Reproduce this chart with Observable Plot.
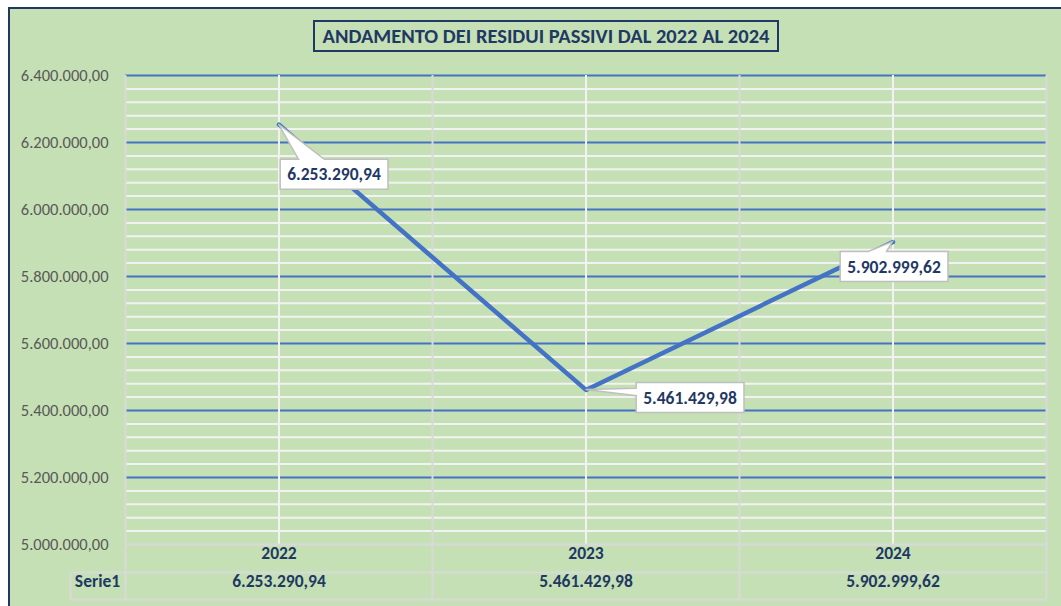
<!DOCTYPE html>
<html>
<head>
<meta charset="utf-8">
<script src="https://cdn.jsdelivr.net/npm/d3@7"></script>
<script src="https://cdn.jsdelivr.net/npm/@observablehq/plot@0.6"></script>
<style>
  html, body { margin: 0; padding: 0; background: #ffffff; overflow: hidden; }
  #wrap { position: relative; width: 1061px; height: 606px; overflow: hidden; }
  #area { position: absolute; left: 8px; top: 7px; width: 1100px; height: 700px;
          background: #C5E0B4; border-top: 2px solid #1F3864; border-left: 2px solid #1F3864; }
  #title { position: absolute; left: 313px; top: 20px; width: 466px; height: 32px; box-sizing: border-box;
           border: 2px solid #1F3864; color: #1F3864; font: bold 20.5px Carlito, Lato, sans-serif;
           display: flex; align-items: center; justify-content: center; white-space: nowrap; }
  #chart { position: absolute; left: 0; top: 0; }
</style>
</head>
<body>
<div id="wrap">
  <div id="area"></div>
  <div id="chart"></div>
  <div id="title"></div>
</div>
<script>
// ---- data ----
const title = "ANDAMENTO DEI RESIDUI PASSIVI DAL 2022 AL 2024";
const seriesName = "Serie1";
const years = [2022, 2023, 2024];
const values = [6253290.94, 5461429.98, 5902999.62];
const yTicks = [5000000, 5200000, 5400000, 5600000, 5800000, 6000000, 6200000, 6400000];
const minorStep = 40000;

// ---- layout of callouts (pixel offsets, pointer side, pointer base fractions) ----
const calloutLayout = [
  {dx: 55, dy: 50, side: "top", b0: 0.17, b1: 0.41},
  {dx: 104, dy: 8, side: "left", b0: 0.19, b1: 0.44},
  {dx: 1, dy: 25, side: "top", b0: 0.26, b1: 0.43}
];

document.getElementById("title").textContent = title;

const fmt = d3.formatLocale({decimal: ",", thousands: ".", grouping: [3], currency: ["", " €"]}).format(",.2f");
const data = years.map((year, i) => ({year, value: values[i]}));
const bounds = [years[0] - 0.5, ...years.map(y => y + 0.5)];
const yMin = d3.min(yTicks), yMax = d3.max(yTicks);
const majors = yTicks.filter(v => v > yMin);
const minors = d3.range(yMin + minorStep, yMax, minorStep).filter(v => !yTicks.some(t => Math.abs(t - v) < 1));

const navy = "#1F3864";
const fontFamily = "Carlito, Lato, sans-serif";
const tableFont = 17.5;

const plot = Plot.plot({
  width: 1061,
  height: 606,
  marginLeft: 125,
  marginRight: 15,
  marginTop: 75,
  marginBottom: 62,
  style: {background: "transparent", fontFamily, fontSize: "16.5px", color: "#595959", overflow: "visible"},
  x: {domain: [bounds[0], bounds[bounds.length - 1]], axis: null},
  y: {domain: [yMin, yMax], ticks: yTicks, tickFormat: fmt, tickSize: 0, tickPadding: 17, label: null},
  marks: [
    Plot.ruleY(minors, {stroke: "#F2F2F2", strokeWidth: 2}),
    Plot.ruleY(majors, {stroke: "#4472C4", strokeWidth: 2}),
    Plot.ruleX(years, {stroke: "#F2F2F2", strokeWidth: 2}),
    Plot.ruleX(bounds, {stroke: "#D9D9D9", strokeWidth: 2, insetBottom: -55}),
    Plot.ruleY([yMin], {stroke: "#D9D9D9", strokeWidth: 2}),
    Plot.ruleY([yMin], {stroke: "#D9D9D9", strokeWidth: 2, dy: 28, insetLeft: -55}),
    Plot.ruleY([yMin], {stroke: "#D9D9D9", strokeWidth: 2, dy: 55, insetLeft: -55}),
    Plot.ruleX([bounds[0]], {stroke: "#D9D9D9", strokeWidth: 2, dx: -55, insetTop: 497, insetBottom: -55}),
    Plot.line(data, {x: "year", y: "value", stroke: "#4472C4", strokeWidth: 4.5, strokeLinecap: "round", strokeLinejoin: "round"}),
    Plot.text(data, {x: "year", frameAnchor: "bottom", dy: 14, text: d => String(d.year), fill: navy, fontWeight: "bold", fontSize: tableFont}),
    Plot.text(data, {x: "year", frameAnchor: "bottom", dy: 42, text: d => fmt(d.value), fill: navy, fontWeight: "bold", fontSize: tableFont}),
    Plot.text([seriesName], {frameAnchor: "bottom-left", dx: -28, dy: 42, textAnchor: "middle", text: d => d, fill: navy, fontWeight: "bold", fontSize: tableFont}),
    ...data.map((d, i) => Plot.text([d], {
      x: "year", y: "value", text: e => fmt(e.value),
      dx: calloutLayout[i].dx, dy: calloutLayout[i].dy,
      fill: navy, fontWeight: "bold", fontSize: 17.5, ariaDescription: "callout"
    }))
  ]
});

document.getElementById("chart").appendChild(plot);

// ---- draw callout boxes with pointers behind the callout texts ----
const xs = plot.scale("x"), ys = plot.scale("y");
const allTexts = Array.from(plot.querySelectorAll("text"));
const texts = data.map((d, i) => {
  const label = fmt(d.value);
  const matches = allTexts.filter(t => t.textContent === label);
  return matches[matches.length - 1];
});
texts.forEach((t, i) => {
  if (!t) return;
  const bb = t.getBBox();
  const m = t.getCTM();
  const padX = 7, padY = 4;
  const L = bb.x + m.e - padX, R = bb.x + bb.width + m.e + padX;
  const T = bb.y + m.f - padY, B = bb.y + bb.height + m.f + padY;
  const px = xs.apply(data[i].year), py = ys.apply(data[i].value);
  const lay = calloutLayout[i];
  let dstr;
  if (lay.side === "top") {
    const a = L + (R - L) * lay.b0, b = L + (R - L) * lay.b1;
    dstr = `M${L},${T}L${a},${T}L${px},${py}L${b},${T}L${R},${T}L${R},${B}L${L},${B}Z`;
  } else {
    const a = T + (B - T) * lay.b0, b = T + (B - T) * lay.b1;
    dstr = `M${L},${T}L${R},${T}L${R},${B}L${L},${B}L${L},${b}L${px},${py}L${L},${a}Z`;
  }
  const path = document.createElementNS("http://www.w3.org/2000/svg", "path");
  path.setAttribute("d", dstr);
  path.setAttribute("fill", "#ffffff");
  path.setAttribute("stroke", "#BFBFBF");
  path.setAttribute("stroke-width", "1.5");
  let top = t;
  while (top.parentNode && top.parentNode !== plot) top = top.parentNode;
  plot.insertBefore(path, top);
});
</script>
</body>
</html>
